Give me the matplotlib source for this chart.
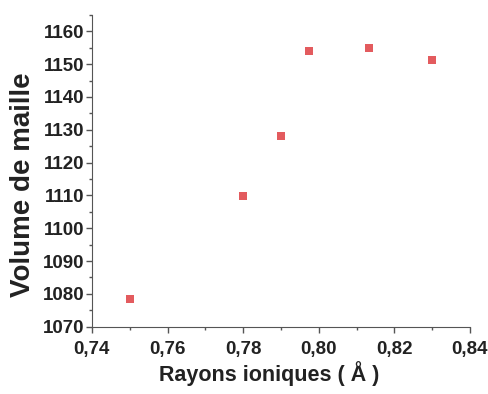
import numpy as np
import matplotlib.pyplot as plt
from matplotlib.ticker import MultipleLocator

#Data
rayons = [0.750, 0.780, 0.790, 0.7975, 0.8133, 0.830]
volumes = [1078.3, 1109.7, 1128.0, 1154.1, 1154.9, 1151.2]

xticks = [0.74, 0.76, 0.78, 0.80, 0.82, 0.84]
xtick_labels = ['0,74', '0,76', '0,78', '0,80', '0,82', '0,84']
yticks = [1070, 1080, 1090, 1100, 1110, 1120, 1130, 1140, 1150, 1160]

plt.rcParams['font.family'] = ['Liberation Sans', 'DejaVu Sans']

fig = plt.figure(figsize=(4.89, 3.94), dpi=100)
ax = fig.add_axes([0.188, 0.171, 0.773, 0.791])

ax.plot(rayons, volumes, 's', color='#e35b5e', markersize=6, markeredgewidth=0)

ax.set_xlim(0.74, 0.84)
ax.set_ylim(1070, 1165)

ax.set_xticks(xticks)
ax.set_xticklabels(xtick_labels)
ax.set_yticks(yticks)
ax.xaxis.set_minor_locator(MultipleLocator(0.01))
ax.yaxis.set_minor_locator(MultipleLocator(5))

ax.spines['top'].set_visible(False)
ax.spines['right'].set_visible(False)
ax.spines['left'].set_color('#555555')
ax.spines['bottom'].set_color('#555555')

ax.tick_params(which='major', direction='out', length=4, width=1, color='#555555',
               labelsize=13.5)
ax.tick_params(axis='x', which='major', pad=6)
ax.tick_params(axis='y', which='major', pad=1.5)
ax.tick_params(which='minor', direction='out', length=2.5, width=1, color='#555555')
for lab in ax.get_xticklabels() + ax.get_yticklabels():
    lab.set_fontweight('bold')
    lab.set_color('#222222')

ax.set_xlabel('Rayons ioniques ( Å )', fontsize=15.5, fontweight='bold', color='#222222')
ax.set_ylabel('Volume de maille', fontsize=20, fontweight='bold', color='#222222')
ax.xaxis.set_label_coords(0.47, -0.11)
ax.yaxis.set_label_coords(-0.148, 0.455)

plt.savefig('out.png', dpi=100)
